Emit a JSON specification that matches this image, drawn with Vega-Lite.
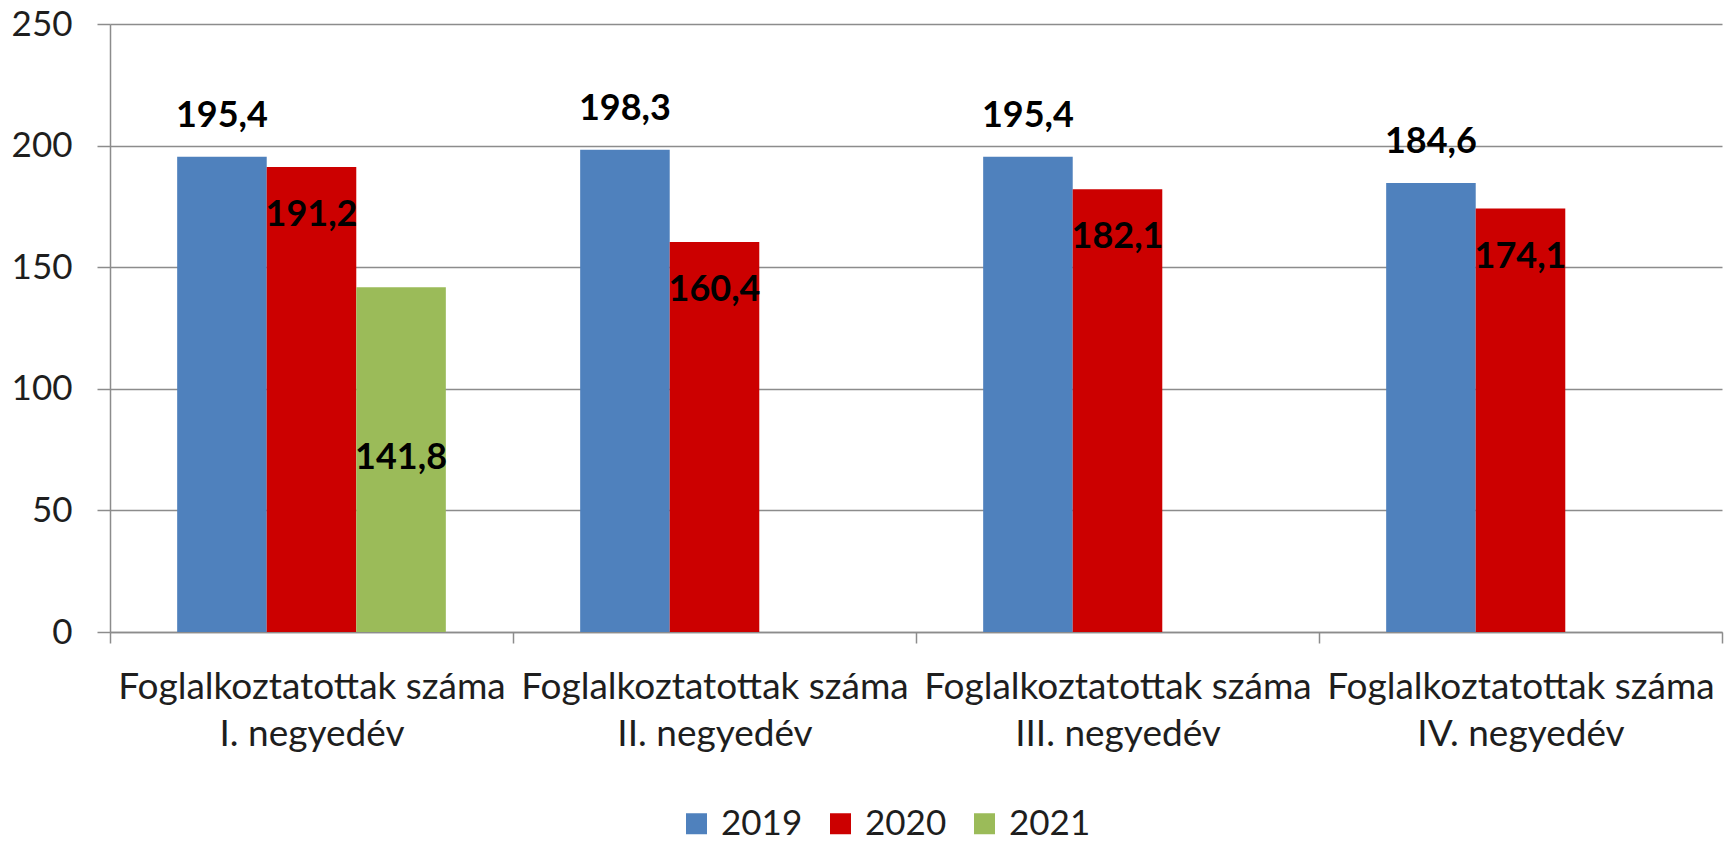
{
  "$schema": "https://vega.github.io/schema/vega-lite/v6.json",
  "autosize": {"type": "none"},
  "padding": {"left": 110, "top": 24, "right": 10, "bottom": 210},
  "width": 1612,
  "height": 608,
  "background": "white",
  "config": {
    "locale": {"number": {"decimal": ",", "thousands": " ", "grouping": [3], "currency": ["", " Ft"]}},
    "font": "Lato",
    "view": {"stroke": null},
    "axis": {"domainColor": "#8c8c8c", "domainWidth": 1.5, "tickColor": "#8c8c8c", "tickWidth": 1.5, "gridColor": "#8c8c8c", "gridWidth": 1.5, "labelColor": "#1e1e1e", "labelFontSize": 35, "title": null}
  },
  "data": {
    "values": [
      {"q": "Foglalkoztatottak száma I. negyedév", "year": "2019", "value": 195.4},
      {"q": "Foglalkoztatottak száma I. negyedév", "year": "2020", "value": 191.2},
      {"q": "Foglalkoztatottak száma I. negyedév", "year": "2021", "value": 141.8},
      {"q": "Foglalkoztatottak száma II. negyedév", "year": "2019", "value": 198.3},
      {"q": "Foglalkoztatottak száma II. negyedév", "year": "2020", "value": 160.4},
      {"q": "Foglalkoztatottak száma III. negyedév", "year": "2019", "value": 195.4},
      {"q": "Foglalkoztatottak száma III. negyedév", "year": "2020", "value": 182.1},
      {"q": "Foglalkoztatottak száma IV. negyedév", "year": "2019", "value": 184.6},
      {"q": "Foglalkoztatottak száma IV. negyedév", "year": "2020", "value": 174.1}
    ]
  },
  "layer": [
    {
      "mark": {"type": "bar"},
      "encoding": {
        "x": {
          "field": "q", "type": "nominal", "sort": null,
          "scale": {"paddingInner": 0, "paddingOuter": 0},
          "axis": {
            "labelAngle": 0, "tickBand": "extent",
            "labelExpr": "isString(datum.value) ? ['Foglalkoztatottak száma', substring(datum.value, 24)] : ''",
            "labelFontSize": 37, "labelLineHeight": 47, "labelPadding": 26, "tickSize": 11, "grid": false, "labelLimit": 0
          }
        },
        "xOffset": {
          "field": "year", "type": "nominal",
          "scale": {"domain": ["2019", "2020", "2021"], "paddingInner": 0, "paddingOuter": 0.75}
        },
        "y": {
          "field": "value", "type": "quantitative",
          "scale": {"domain": [0, 250], "nice": false},
          "axis": {"values": [0, 50, 100, 150, 200, 250], "labelPadding": 25, "tickSize": 13}
        },
        "color": {
          "field": "year", "type": "nominal",
          "scale": {"domain": ["2019", "2020", "2021"], "range": ["#4f81bd", "#cc0000", "#9bbb59"]},
          "legend": {
            "title": null, "orient": "none", "direction": "horizontal",
            "legendX": 569, "legendY": 782,
            "symbolType": "square", "symbolSize": 441, "symbolStrokeWidth": 0,
            "labelFontSize": 35, "labelColor": "#1e1e1e", "labelOffset": 7, "columnPadding": 20
          }
        }
      }
    },
    {
      "transform": [{"filter": "datum.year == '2019'"}],
      "mark": {"type": "text", "dy": -41, "baseline": "middle", "fontWeight": "bold", "fontSize": 36, "color": "#000000"},
      "encoding": {
        "x": {"field": "q", "type": "nominal", "sort": null},
        "xOffset": {"field": "year", "type": "nominal"},
        "y": {"field": "value", "type": "quantitative"},
        "text": {"field": "value", "type": "quantitative", "format": ".1f"}
      }
    },
    {
      "transform": [{"filter": "datum.year == '2020'"}],
      "mark": {"type": "text", "dy": 48, "baseline": "middle", "fontWeight": "bold", "fontSize": 36, "color": "#000000"},
      "encoding": {
        "x": {"field": "q", "type": "nominal", "sort": null},
        "xOffset": {"field": "year", "type": "nominal"},
        "y": {"field": "value", "type": "quantitative"},
        "text": {"field": "value", "type": "quantitative", "format": ".1f"}
      }
    },
    {
      "transform": [{"filter": "datum.year == '2021'"}],
      "mark": {"type": "text", "dy": 171, "baseline": "middle", "fontWeight": "bold", "fontSize": 36, "color": "#000000"},
      "encoding": {
        "x": {"field": "q", "type": "nominal", "sort": null},
        "xOffset": {"field": "year", "type": "nominal"},
        "y": {"field": "value", "type": "quantitative"},
        "text": {"field": "value", "type": "quantitative", "format": ".1f"}
      }
    }
  ]
}
